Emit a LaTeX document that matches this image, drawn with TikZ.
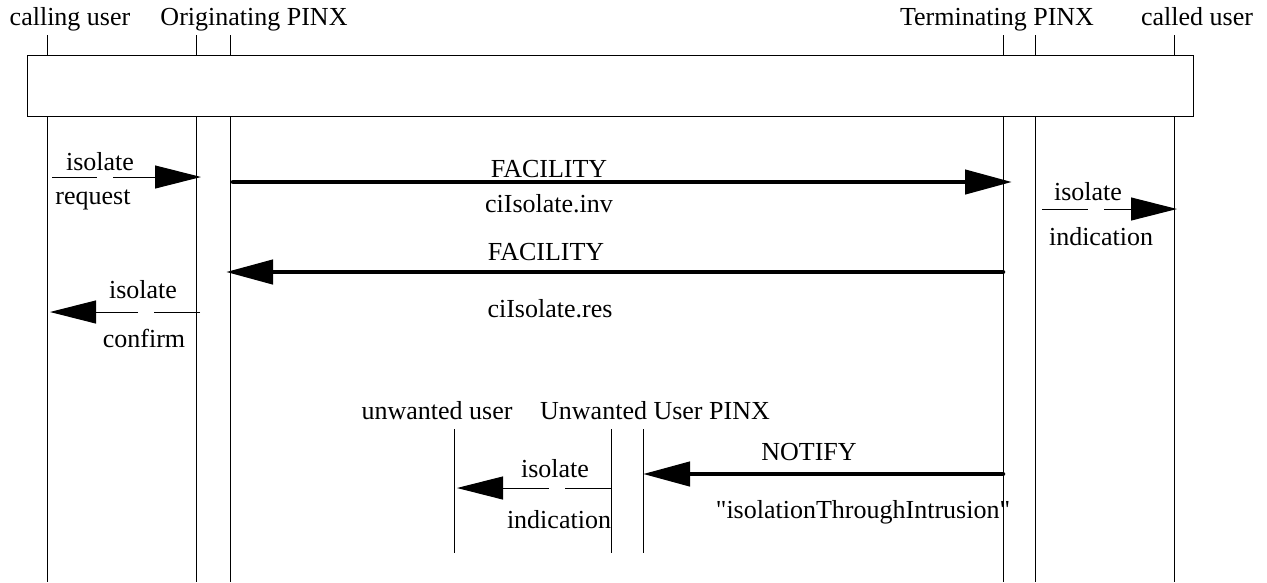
\documentclass[tikz,border=0pt]{standalone}
\usepackage{fontspec}
\setmainfont{Liberation Serif}
\usetikzlibrary{arrows.meta}
\tikzset{
  lbl/.style={anchor=base, inner sep=0pt, font=\fontsize{26}{30}\selectfont},
  life/.style={line width=1pt},
  msg/.style={line width=1pt, -{Triangle[length=46pt,width=23pt]}},
  sig/.style={line width=4.5pt, line cap=round, -{Triangle[length=47pt,width=24pt]}},
}
\begin{document}
\begin{tikzpicture}[x=1pt,y=-1pt]
  \useasboundingbox (0,0) rectangle (1267,582);
  % entity names
  \node[lbl] (cu) at (70,25) {calling user};
  \node[lbl] (op) at (254,25) {Originating PINX};
  \node[lbl] (tp) at (997,25) {Terminating PINX};
  \node[lbl] (du) at (1197,25) {called user};
  \node[lbl] (uu) at (437,419) {unwanted user};
  \node[lbl] (up) at (655,419) {Unwanted User PINX};
  % lifelines
  \foreach \n/\x in {cu/47, op1/196, op2/230, tp1/1003, tp2/1035, du/1174} {
    \coordinate (\n-a) at (\x,35);
    \coordinate (\n-b) at (\x,55);
    \coordinate (\n-c) at (\x,116);
    \coordinate (\n-d) at (\x,582);
    \draw[life] (\n-a) -- (\n-b) (\n-c) -- (\n-d);
  }
  \foreach \n/\x in {uu/454, up1/611, up2/643} {
    \coordinate (\n-a) at (\x,429);
    \coordinate (\n-b) at (\x,553);
    \draw[life] (\n-a) -- (\n-b);
  }
  \coordinate (box-nw) at (27,55);
  \coordinate (box-se) at (1193,116);
  \draw[life] (box-nw) rectangle (box-se);
  % isolate request
  \coordinate (rq-s) at (52,177);
  \coordinate (rq-g1) at (97,177);
  \coordinate (rq-g2) at (113,177);
  \coordinate (rq-e) at (201,177);
  \draw[life] (rq-s) -- (rq-g1);
  \draw[msg] (rq-g2) -- (rq-e);
  \node[lbl] (rq-t) at (100,170) {isolate};
  \node[lbl] (rq-b) at (93,204) {request};
  % FACILITY invoke
  \coordinate (fi-s) at (233,182);
  \coordinate (fi-e) at (1012,182);
  \draw[sig] (fi-s) -- (fi-e);
  \node[lbl] (fi-t) at (549,177) {FACILITY};
  \node[lbl] (fi-b) at (549,212) {ciIsolate.inv};
  % isolate indication (called user)
  \coordinate (di-s) at (1042,209);
  \coordinate (di-g1) at (1088,209);
  \coordinate (di-g2) at (1104,209);
  \coordinate (di-e) at (1177,209);
  \draw[life] (di-s) -- (di-g1);
  \draw[msg] (di-g2) -- (di-e);
  \node[lbl] (di-t) at (1088,200) {isolate};
  \node[lbl] (di-b) at (1101,245) {indication};
  % FACILITY result
  \coordinate (fr-s) at (1003,272);
  \coordinate (fr-e) at (226,272);
  \draw[sig] (fr-s) -- (fr-e);
  \node[lbl] (fr-t) at (546,260) {FACILITY};
  \node[lbl] (fr-b) at (550,317) {ciIsolate.res};
  % isolate confirm
  \coordinate (cf-s) at (200,312);
  \coordinate (cf-g1) at (154,312);
  \coordinate (cf-g2) at (138,312);
  \coordinate (cf-e) at (50,312);
  \draw[life] (cf-s) -- (cf-g1);
  \draw[msg] (cf-g2) -- (cf-e);
  \node[lbl] (cf-t) at (143,298) {isolate};
  \node[lbl] (cf-b) at (144,347) {confirm};
  % NOTIFY
  \coordinate (nt-s) at (1003,474);
  \coordinate (nt-e) at (643,474);
  \draw[sig] (nt-s) -- (nt-e);
  \node[lbl] (nt-t) at (809,460) {NOTIFY};
  \node[lbl] (nt-b) at (863,518) {\textquotedbl isolationThroughIntrusion\textquotedbl};
  % isolate indication (unwanted user)
  \coordinate (ui-s) at (611,488);
  \coordinate (ui-g1) at (565,488);
  \coordinate (ui-g2) at (549,488);
  \coordinate (ui-e) at (457,488);
  \draw[life] (ui-s) -- (ui-g1);
  \draw[msg] (ui-g2) -- (ui-e);
  \node[lbl] (ui-t) at (555,477) {isolate};
  \node[lbl] (ui-b) at (559,528) {indication};
\end{tikzpicture}
\end{document}
